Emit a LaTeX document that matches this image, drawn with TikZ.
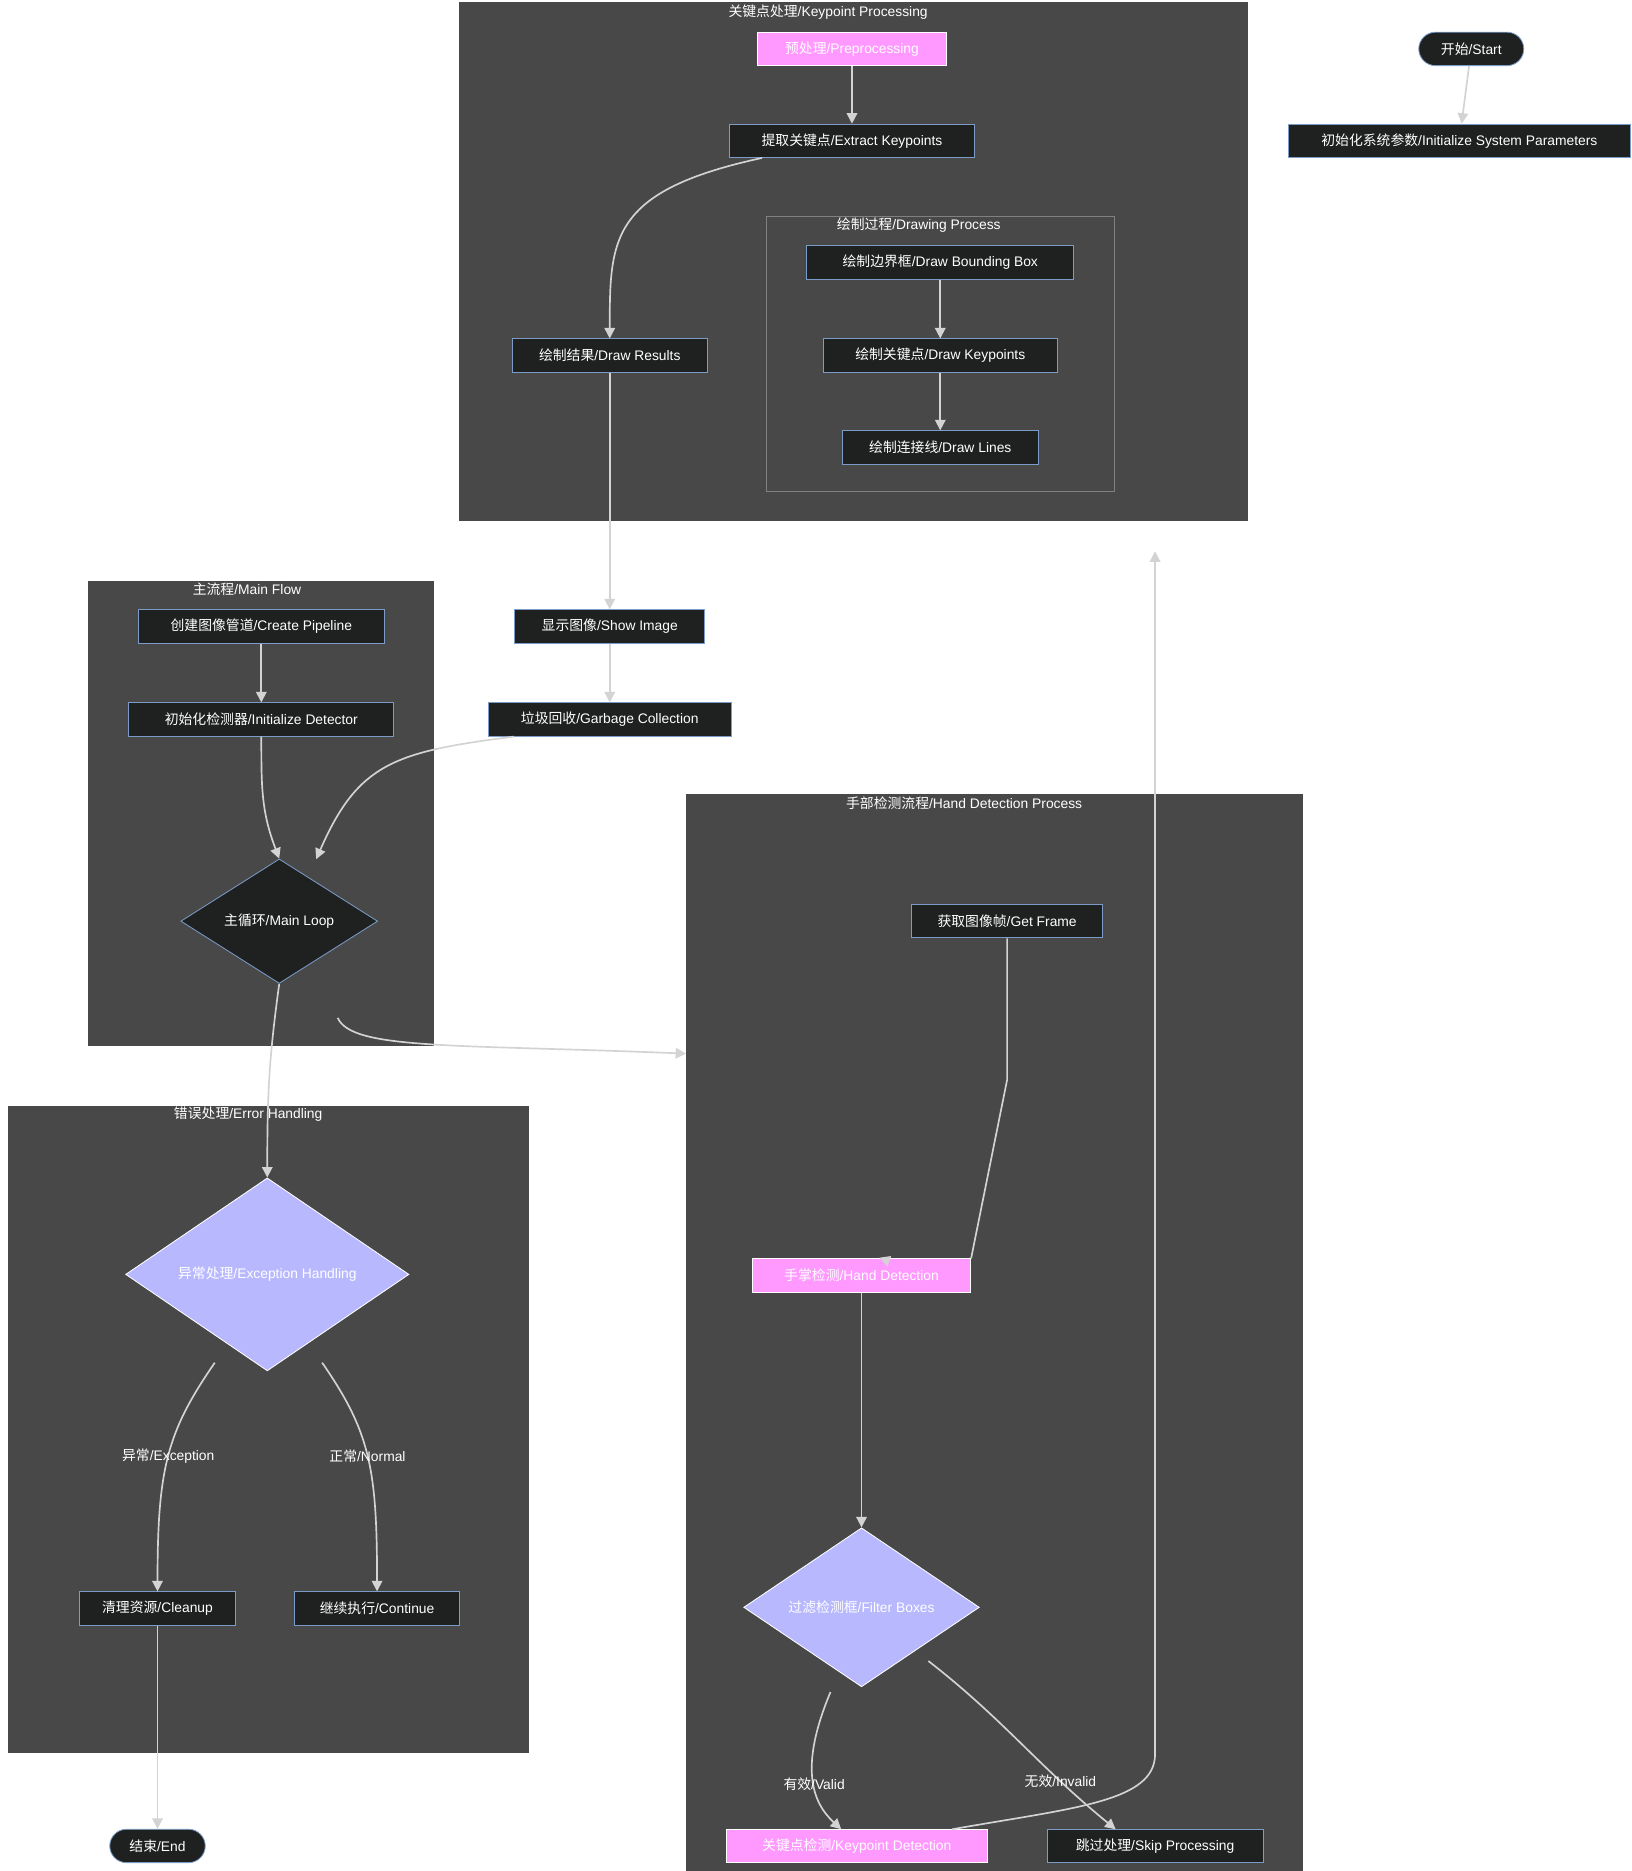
\documentclass[tikz,border=0pt]{standalone}
\usepackage{fontspec}
\setmainfont{Liberation Sans}
\newfontfamily\cjk{Noto Sans CJK SC}
\usetikzlibrary{arrows.meta,shapes.geometric}
\definecolor{cluster-grey}{HTML}{484848}
\definecolor{node-dark}{HTML}{1F2020}
\definecolor{node-edge}{HTML}{7A9CC6}
\definecolor{pink-fill}{HTML}{FF99FF}
\definecolor{lilac-fill}{HTML}{B8B8FF}
\definecolor{flow-grey}{HTML}{D3D3D3}
\tikzset{
    plain-box/.style = {draw=node-edge, fill=node-dark, text=white, rectangle, minimum height=0.56cm, inner sep=2pt, font=\fontsize{6.6}{8}\selectfont},
    pink-box/.style = {plain-box, draw=white, fill=pink-fill},
    pill-box/.style = {plain-box, draw=node-edge, rounded corners=0.28cm},
    loop-diamond/.style = {draw=node-edge, fill=node-dark, text=white, diamond, aspect=1, inner sep=0pt, font=\fontsize{6.6}{8}\selectfont},
    check-diamond/.style = {loop-diamond, draw=white, fill=lilac-fill},
    cluster-box/.style = {fill=cluster-grey},
    cluster-title/.style = {text=white, font=\fontsize{6.6}{8}\selectfont},
    flow/.style = {draw=flow-grey, thick, -{Triangle[length=5pt,width=5pt]}},
    flow-label/.style = {text=white, font=\fontsize{6.6}{8}\selectfont},
}
\begin{document}
\begin{tikzpicture}[x=0.02cm, y=-0.02cm]
\useasboundingbox (0,0) rectangle (1367,1568);
% clusters
\fill[cluster-box] (385,2) rectangle (1046,437);
\draw[draw=gray, fill=cluster-grey] (642,181) rectangle (934,412);
\fill[cluster-box] (74,487) rectangle (364,877);
\fill[cluster-box] (7,927) rectangle (443,1469);
\fill[cluster-box] (575,665) rectangle (1092,1568);
\node[cluster-title] at (694,10) {{\cjk 关键点处理}/Keypoint Processing};
\node[cluster-title] at (770,189) {{\cjk 绘制过程}/Drawing Process};
\node[cluster-title] at (207,494) {{\cjk 主流程}/Main Flow};
\node[cluster-title] at (208,934) {{\cjk 错误处理}/Error Handling};
\node[cluster-title] at (808,673) {{\cjk 手部检测流程}/Hand Detection Process};

% nodes
\node[pill-box, minimum width=1.76cm] (start) at (1233,41) {{\cjk 开始}/Start};
\node[plain-box, minimum width=5.72cm] (init) at (1223,118) {{\cjk 初始化系统参数}/Initialize System Parameters};
\node[pink-box, minimum width=3.16cm] (prep) at (714,41) {{\cjk 预处理}/Preprocessing};
\node[plain-box, minimum width=4.12cm] (extract) at (714,118) {{\cjk 提取关键点}/Extract Keypoints};
\node[plain-box, minimum width=4.48cm] (drawbox) at (788,220) {{\cjk 绘制边界框}/Draw Bounding Box};
\node[plain-box, minimum width=3.92cm] (drawkp) at (788,298) {{\cjk 绘制关键点}/Draw Keypoints};
\node[plain-box, minimum width=3.28cm] (drawlines) at (788,375) {{\cjk 绘制连接线}/Draw Lines};
\node[plain-box, minimum width=3.26cm] (drawres) at (511,298) {{\cjk 绘制结果}/Draw Results};
\node[plain-box, minimum width=3.18cm] (show) at (511,525) {{\cjk 显示图像}/Show Image};
\node[plain-box, minimum width=4.08cm] (gc) at (511,603) {{\cjk 垃圾回收}/Garbage Collection};
\node[plain-box, minimum width=4.12cm] (pipeline) at (219,525) {{\cjk 创建图像管道}/Create Pipeline};
\node[plain-box, minimum width=4.44cm] (initdet) at (219,603) {{\cjk 初始化检测器}/Initialize Detector};
\node[loop-diamond, minimum width=3.3cm] (mainloop) at (234,772) {{\cjk 主循环}/Main Loop};
\node[check-diamond, minimum width=4.75cm] (exc) at (224,1068) {{\cjk 异常处理}/Exception Handling};
\node[plain-box, minimum width=2.62cm] (cleanup) at (132,1348) {{\cjk 清理资源}/Cleanup};
\node[plain-box, minimum width=2.76cm] (cont) at (316,1348) {{\cjk 继续执行}/Continue};
\node[pill-box, minimum width=1.6cm] (end) at (132,1547) {{\cjk 结束}/End};
\node[plain-box, minimum width=3.2cm] (getframe) at (844,772) {{\cjk 获取图像帧}/Get Frame};
\node[pink-box, minimum width=3.66cm] (hand) at (722,1069) {{\cjk 手掌检测}/Hand Detection};
\node[check-diamond, minimum width=3.95cm] (filter) at (722,1347) {{\cjk 过滤检测框}/Filter Boxes};
\node[pink-box, minimum width=4.38cm] (kpdet) at (718,1547) {{\cjk 关键点检测}/Keypoint Detection};
\node[plain-box, minimum width=3.62cm] (skip) at (968,1547) {{\cjk 跳过处理}/Skip Processing};
\coordinate (kpin) at (968,462);
\coordinate (handin) at (575,883);

% connectors
\draw[flow] (start) -- (init);
\draw[flow] (prep) -- (extract);
\draw[flow] (extract.south west) ++(28,0) .. controls (511,160) and (511,200) .. (drawres.north);
\draw[flow] (drawbox) -- (drawkp);
\draw[flow] (drawkp) -- (drawlines);
\draw[flow] (drawres) -- (show);
\draw[flow] (show) -- (gc);
\draw[flow] (gc.south west) ++(22,0) .. controls (330,630) and (300,640) .. (265,720);
\draw[flow] (pipeline) -- (initdet);
\draw[flow] (initdet.south) .. controls (219,660) and (219,680) .. (mainloop.north);
\draw[flow] (283,853) .. controls (295,880) and (380,875) .. (handin);
\draw[flow] (mainloop.south) .. controls (225,890) and (224,920) .. (exc.north);
\draw[flow] (180,1142) .. controls (140,1200) and (132,1230) .. (cleanup.north)
    node[flow-label, pos=0.5] {{\cjk 异常}/Exception};
\draw[flow] (270,1142) .. controls (310,1200) and (316,1230) .. (cont.north)
    node[flow-label, pos=0.5] {{\cjk 正常}/Normal};
\draw[flow] (cleanup) -- (end);
\draw[flow] (getframe.south) -- (844,905) -- (hand.north east) ++(-75,0) -- (737,1054);
\draw[flow] (hand) -- (filter.north);
\draw[flow] (696,1418) .. controls (670,1480) and (680,1510) .. (705,1533)
    node[flow-label, pos=0.55] {{\cjk 有效}/Valid};
\draw[flow] (778,1392) .. controls (840,1440) and (870,1480) .. (935,1533)
    node[flow-label, pos=0.73] {{\cjk 无效}/Invalid};
\draw[flow] (798,1533) .. controls (900,1515) and (968,1510) .. (968,1470) -- (kpin);
\end{tikzpicture}
\end{document}
